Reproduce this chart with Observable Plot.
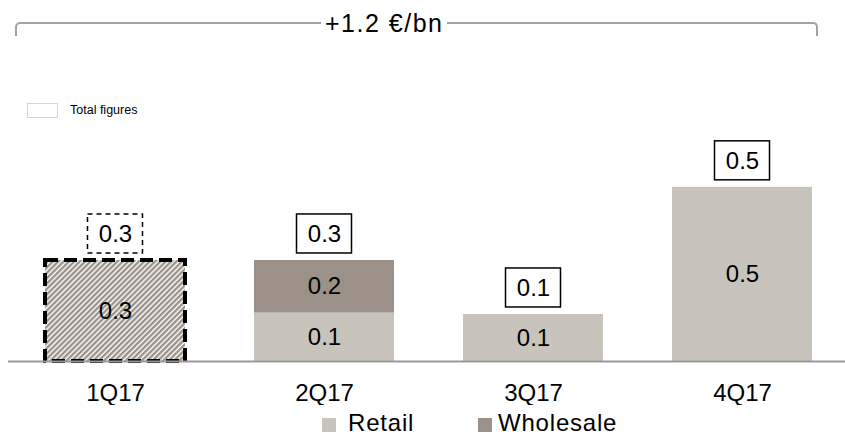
<!DOCTYPE html>
<html>
<head>
<meta charset="utf-8">
<script src="https://cdn.jsdelivr.net/npm/d3@7"></script>
<script src="https://cdn.jsdelivr.net/npm/@observablehq/plot@0.6"></script>
<style>
  html, body { margin: 0; padding: 0; background: #fff; }
  #page { position: relative; width: 845px; height: 435px; overflow: hidden;
          font-family: "Liberation Sans", Arial, sans-serif; color: #000; }
  #bracket { position: absolute; left: 15px; top: 22px; width: 803px; height: 14px; box-sizing: border-box;
             border: 2px solid #a3a3a3; border-bottom: none; border-radius: 5px 5px 0 0; }
  #growth { position: absolute; left: 321px; top: 11px; padding: 0 4px 0 4px; background: #fff;
            font-size: 25px; line-height: 25px; letter-spacing: 1.5px; white-space: nowrap; }
  #key { position: absolute; left: 27px; top: 103px; height: 15px; display: flex; align-items: center; }
  #key .box { width: 31px; height: 15px; box-sizing: border-box; border: 1.5px solid #d4d4d4; background: #fff; }
  #key .txt { margin-left: 12px; font-size: 12.5px; line-height: 15px; }
  #chart { position: absolute; left: 0; top: 130px; }
  #legend .sw { position: absolute; top: 418px; width: 14px; height: 14px; }
  #legend .lab { position: absolute; top: 413px; font-size: 24px; line-height: 20px; letter-spacing: 0.8px; white-space: nowrap; }
</style>
</head>
<body>
<div id="page">
  <div id="bracket"></div>
  <div id="growth"></div>
  <div id="key"><span class="box"></span><span class="txt"></span></div>
  <div id="chart"></div>
  <div id="legend"></div>
</div>
<script>
// Quarterly contribution, € bn
const quarters = ["1Q17", "2Q17", "3Q17", "4Q17"];
const retail = [0, 0.139, 0.135, 0.5];
const wholesale = [0, 0.151, 0, 0];
// 1Q17 is only available as a total, without the retail / wholesale split
const unsplit = [0.29, 0, 0, 0];

const seriesNames = ["Retail", "Wholesale"];
const seriesColors = ["#c8c4bc", "#9b9188"];
const hatchColor = "#9a9289";
const unit = "€/bn";
const keyLabel = "Total figures";

const fmt = d3.format(".1f");

const stacked = quarters.flatMap((q, i) => [
  {quarter: q, series: seriesNames[0], value: retail[i]},
  {quarter: q, series: seriesNames[1], value: wholesale[i]}
]).filter(d => d.value > 0);

const hatched = quarters.map((q, i) => ({quarter: q, value: unsplit[i]})).filter(d => d.value > 0);

const totals = quarters.map((q, i) => ({
  quarter: q,
  total: retail[i] + wholesale[i] + unsplit[i],
  dashed: unsplit[i] > 0
}));

// total boxes sit just above each column
const boxOpts = {
  x: "quarter", y1: "total", y2: "total",
  insetTop: -46, insetBottom: 7, insetLeft: 42.5, insetRight: 42.5,
  fill: "white", stroke: "black", strokeWidth: 1.5
};

const chart = Plot.plot({
  width: 845,
  height: 275,
  marginTop: 22,
  marginBottom: 44,
  marginLeft: 44,
  marginRight: 32,
  style: 'font-family: "Liberation Sans", Arial, sans-serif; font-size: 24px; color: #000; background: white;',
  x: {domain: quarters, paddingInner: 0.33, paddingOuter: 0, tickSize: 0, tickPadding: 22, label: null},
  y: {domain: [0, 0.6], axis: null},
  color: {domain: seriesNames, range: seriesColors},
  marks: [
    Plot.barY(hatched, {
      x: "quarter", y: "value", fill: "url(#hatch)",
      stroke: "black", strokeWidth: 4, strokeDasharray: "13,6",
      ariaLabel: "unsplit"
    }),
    Plot.barY(stacked, {x: "quarter", y: "value", fill: "series"}),
    Plot.ruleY([0], {stroke: "#9a9a9a", strokeWidth: 2, insetLeft: -36, insetRight: -32}),
    Plot.text(hatched, Plot.stackY({x: "quarter", y: "value", text: d => fmt(d.value), fill: "black"})),
    Plot.text(stacked, Plot.stackY({x: "quarter", y: "value", text: d => fmt(d.value), fill: "black"})),
    Plot.barY(totals.filter(d => !d.dashed), boxOpts),
    Plot.barY(totals.filter(d => d.dashed), {...boxOpts, strokeDasharray: "5,4"}),
    Plot.text(totals, {x: "quarter", y: "total", dy: -26.5, text: d => fmt(d.total), fill: "black"})
  ]
});

// diagonal stripe fill for the 1Q17 column
const defs = d3.select(chart).insert("defs", ":first-child");
const pat = defs.append("pattern")
  .attr("id", "hatch")
  .attr("patternUnits", "userSpaceOnUse")
  .attr("width", 3.8).attr("height", 3.8)
  .attr("patternTransform", "rotate(45)");
pat.append("rect").attr("width", 3.8).attr("height", 3.8).attr("fill", "white");
pat.append("rect").attr("width", 2.4).attr("height", 3.8).attr("fill", hatchColor);
d3.select(chart).select('g[aria-label="unsplit"]').style("filter", "drop-shadow(0 0 2px rgba(0,0,0,0.45))");

document.getElementById("chart").appendChild(chart);

// bracket label: overall change across the year
document.getElementById("growth").textContent = "+" + fmt(d3.sum(totals, d => d.total)) + " " + unit;
document.querySelector("#key .txt").textContent = keyLabel;

// series legend below the axis
const legendPos = [{sw: 322, lab: 348}, {sw: 478, lab: 498}];
const legend = document.getElementById("legend");
seriesNames.forEach((name, i) => {
  const sw = document.createElement("div");
  sw.className = "sw";
  sw.style.left = legendPos[i].sw + "px";
  sw.style.background = seriesColors[i];
  legend.appendChild(sw);
  const lab = document.createElement("div");
  lab.className = "lab";
  lab.style.left = legendPos[i].lab + "px";
  lab.textContent = name;
  legend.appendChild(lab);
});
</script>
</body>
</html>
